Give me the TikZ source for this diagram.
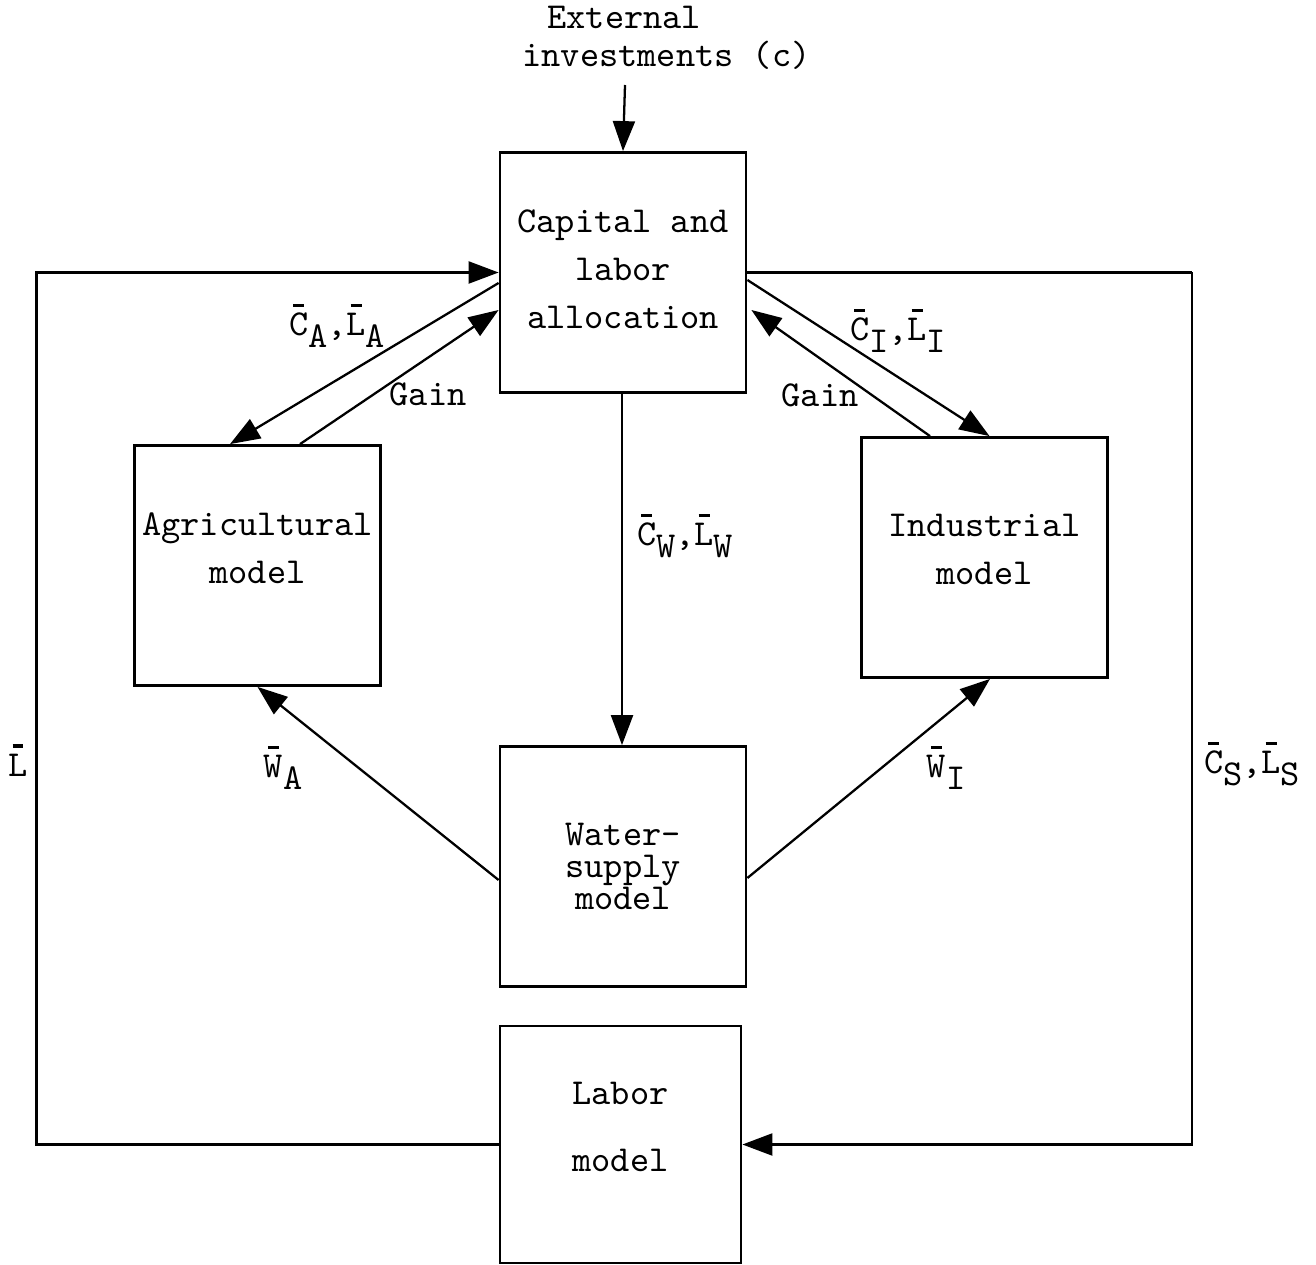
\documentclass[tikz,border=0pt]{standalone}
\usepackage{fontspec}
\usepackage{tikz}
\usetikzlibrary{arrows.meta}
\newcommand{\bv}[1]{\ooalign{#1\cr\hidewidth\raisebox{0.78em}{\rule{0.3em}{0.9pt}}\hidewidth\cr}}
\newcommand{\sbs}[1]{\raisebox{-0.75ex}{#1}}
\tikzset{
  every node/.style={font=\ttfamily\fontsize{10.4}{13.7}\selectfont},
  blk/.style={draw, line width=0.8pt, minimum width=2.46cm, minimum height=2.4cm, align=center, inner sep=0pt},
  lbl/.style={inner sep=1pt, align=center},
  flow/.style={line width=0.65pt, -{Triangle[length=3mm,width=2.2mm]}},
  wire/.style={line width=0.65pt}
}
\begin{document}
\begin{tikzpicture}
\useasboundingbox (0,0) rectangle (13.16,-12.65);
% boxes
\node[blk] (cap) at (6.23,-2.725) {Capital and\\labor\\allocation\raisebox{-0.07cm}{}};
\node[blk] (agr) at (2.575,-5.655) {Agricultural\\model\raisebox{-0.35cm}{}};
\node[blk] (ind) at (9.845,-5.575) {Industrial\\model\raisebox{-0.17cm}{}};
\node[blk] (wat) at (6.23,-8.665) {Water-\\[-4.5pt]supply\\[-4.5pt]model};
\node[blk, minimum width=2.41cm, minimum height=2.37cm] (lab) at (6.205,-11.445) {Labor\\[5.4pt]model\raisebox{-0.36cm}{}};
\node[lbl, align=left] (ext) at (6.665,-0.38) {\hspace*{0.68em}External\\[-3pt]investments (c)};
\coordinate (extin) at (6.25,-0.85);
% top input
\draw[flow] (extin) -- (cap.north);
% outer loops
\draw[flow] (lab.west) -- ++(-4.62,0) |- (cap.west);
\draw[wire] (cap.east) -- (11.92,-2.725) coordinate (rc);
\draw[flow] (rc) |- (lab.east);
% agriculture
\draw[flow] ([yshift=-1.05mm]cap.west) -- ([xshift=-2.75mm]agr.north);
\draw[flow] ([xshift=4.25mm]agr.north) -- ([yshift=-3.75mm]cap.west);
% industry
\draw[flow] ([yshift=-0.75mm]cap.east) -- ([xshift=0.5mm]ind.north);
\draw[flow] ([xshift=-5.45mm]ind.north) -- ([yshift=-3.75mm,xshift=0.4mm]cap.east);
% water
\draw[flow] ([xshift=-0.1mm]cap.south) -- ([xshift=-0.1mm]wat.north);
\draw[flow] ([yshift=-1.35mm]wat.west) -- (agr.south);
\draw[flow] ([yshift=-1.15mm]wat.east) -- ([xshift=0.55mm]ind.south);
% labels
\node[lbl] (lca) at (3.37,-3.3) {\bv{C}\sbs{A},\bv{L}\sbs{A}};
\node[lbl] (lga) at (4.28,-3.94) {Gain};
\node[lbl] (lci) at (8.98,-3.35) {\bv{C}\sbs{I},\bv{L}\sbs{I}};
\node[lbl] (lgi) at (8.2,-3.95) {Gain};
\node[lbl] (lcw) at (6.85,-5.4) {\bv{C}\sbs{W},\bv{L}\sbs{W}};
\node[lbl] (ll) at (0.18,-7.65) {\bv{L}};
\node[lbl] (lwa) at (2.83,-7.72) {\bv{W}\sbs{A}};
\node[lbl] (lwi) at (9.46,-7.72) {\bv{W}\sbs{I}};
\node[lbl] (lcs) at (12.52,-7.68) {\bv{C}\sbs{S},\bv{L}\sbs{S}};
\end{tikzpicture}
\end{document}
